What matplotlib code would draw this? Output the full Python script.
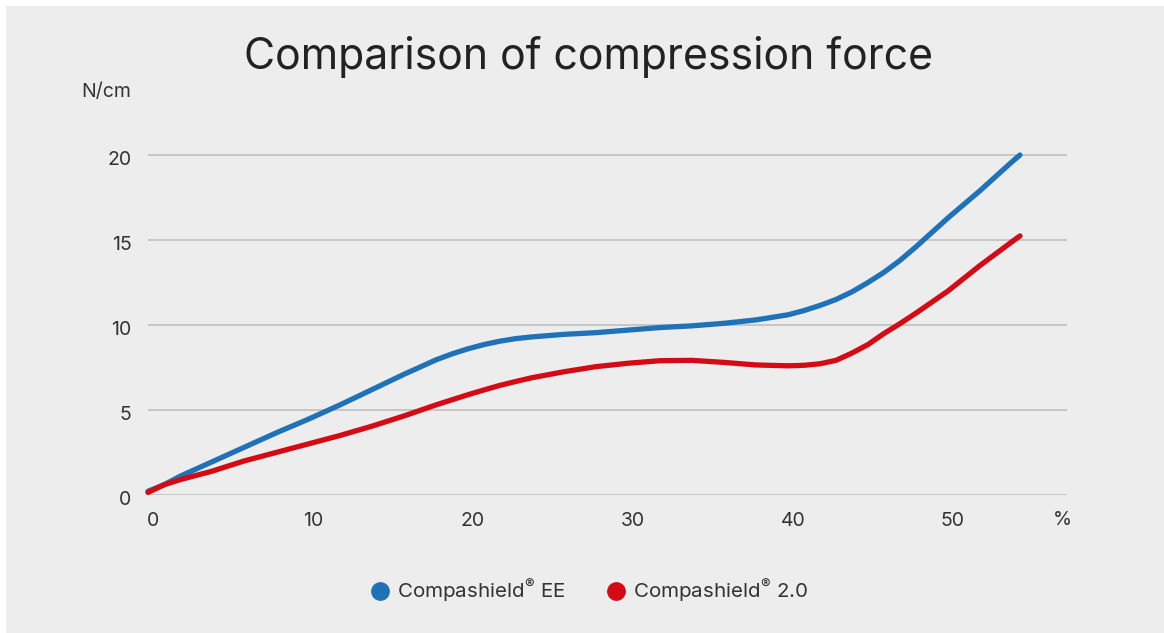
import matplotlib
matplotlib.use("Agg")
import matplotlib.pyplot as plt
from matplotlib.patches import Rectangle
from matplotlib.lines import Line2D
from matplotlib.transforms import ScaledTranslation

plt.rcParams['font.family'] = ['Inter', 'DejaVu Sans']
plt.rcParams['mathtext.fontset'] = 'custom'
plt.rcParams['mathtext.rm'] = 'Inter'
plt.rcParams['mathtext.it'] = 'Inter'
plt.rcParams['mathtext.bf'] = 'Inter'

# ---- data ----
title = "Comparison of compression force"
y_unit = "N/cm"
x_unit = "%"
series_names = ["Compashield$^{\\mathrm{\u00ae}}$ EE", "Compashield$^{\\mathrm{\u00ae}}$ 2.0"]
x_vals = [0, 1, 2, 4, 6, 8, 10, 12, 14, 16, 18, 19, 20, 21, 22, 23, 24, 26, 28,
          30, 32, 34, 36, 38, 40, 41, 42, 43, 44, 45, 46, 47, 48, 49, 50, 52,
          54, 54.5]
ee_vals = [0.22, 0.6, 1.1, 1.95, 2.8, 3.65, 4.45, 5.3, 6.2, 7.1, 7.95, 8.3,
           8.6, 8.85, 9.05, 9.2, 9.3, 9.45, 9.55, 9.7, 9.85, 9.95, 10.1, 10.3,
           10.6, 10.85, 11.15, 11.5, 11.95, 12.5, 13.1, 13.8, 14.6, 15.45,
           16.3, 17.9, 19.6, 20.0]
v20_vals = [0.15, 0.6, 0.9, 1.4, 2.0, 2.5, 3.0, 3.5, 4.05, 4.65, 5.3, 5.6,
            5.9, 6.18, 6.45, 6.68, 6.9, 7.25, 7.55, 7.75, 7.9, 7.92, 7.8,
            7.65, 7.6, 7.63, 7.72, 7.92, 8.35, 8.85, 9.5, 10.08, 10.7, 11.35,
            12.0, 13.5, 14.9, 15.24]
x_ticks = [0, 10, 20, 30, 40, 50]
y_ticks = [0, 5, 10, 15, 20]
colors = ["#1f72b8", "#d40a14"]

W, H = 1164, 633
fig = plt.figure(figsize=(W / 100, H / 100), dpi=100)
fig.patch.set_facecolor("white")
fig.add_artist(Rectangle((6 / W, 0), 1 - 6 / W, (H - 6) / H,
                         transform=fig.transFigure, facecolor="#ededed",
                         edgecolor="none", zorder=0))

ax_l, ax_r = 148, 1067
ax_b, ax_t = 495, 138
ax = fig.add_axes([ax_l / W, (H - ax_b) / H, (ax_r - ax_l) / W, (ax_b - ax_t) / H])
ax.set_facecolor("none")
ax.set_xlim(0, (ax_r - ax_l) / 16)
ax.set_ylim(0, 21)
for s in ax.spines.values():
    s.set_visible(False)

for yv in y_ticks:
    ax.axhline(yv, color="#c4c4c4", lw=1.3, zorder=1)

ax.plot(x_vals, ee_vals, color=colors[0], lw=3.8, solid_capstyle="round",
        solid_joinstyle="round", zorder=3, clip_on=False)
ax.plot(x_vals, v20_vals, color=colors[1], lw=3.8, solid_capstyle="round",
        solid_joinstyle="round", zorder=4, clip_on=False)

ax.set_xticks(x_ticks)
ax.set_xticklabels([str(t) for t in x_ticks])
ax.set_yticks(y_ticks)
ax.set_yticklabels([str(t) for t in y_ticks])
ax.tick_params(axis="both", length=0, labelsize=14, labelcolor="#333333")
ax.tick_params(axis="x", pad=12)
ax.tick_params(axis="y", pad=12)
for lab in ax.get_xticklabels():
    lab.set_transform(lab.get_transform() + ScaledTranslation(5 / 100, 0, fig.dpi_scale_trans))
for lab in ax.get_yticklabels():
    lab.set_transform(lab.get_transform() + ScaledTranslation(0, -3 / 100, fig.dpi_scale_trans))

# unit labels
fig.text(131 / W, 1 - 92 / H, y_unit, ha="right", va="center", fontsize=14, color="#333333")
fig.text(1062 / W, 1 - 520 / H, x_unit, ha="center", va="center", fontsize=14, color="#333333")

# title
fig.text(588 / W, 1 - 57 / H, title, ha="center", va="center", fontsize=30.8, color="#222222")

# legend
handles = [Line2D([], [], marker="o", linestyle="none", markersize=12.5,
                  markerfacecolor=c, markeredgecolor=c) for c in colors]
fig.legend(handles, series_names, loc="center", bbox_to_anchor=(589 / W, 1 - 591 / H),
           ncol=2, frameon=False, fontsize=14.8, labelcolor="#333333",
           handletextpad=0.3, columnspacing=2.0, handlelength=1.0, borderaxespad=0)

fig.savefig("out.png", dpi=100, facecolor=fig.get_facecolor())
